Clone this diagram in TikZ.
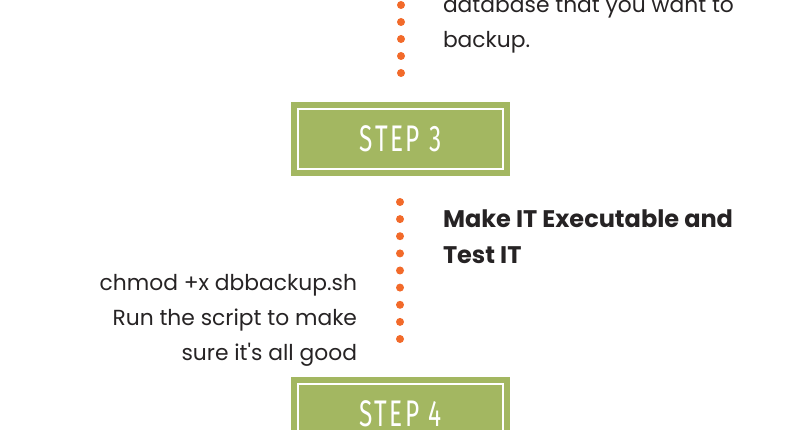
\documentclass[tikz,border=0pt]{standalone}
\usepackage{fontspec}
\setmainfont{Poppins}
\newfontfamily\stepfont[FakeStretch=0.66,LetterSpace=7]{Fira Sans}
\usetikzlibrary{positioning}
\definecolor{stepgreen}{HTML}{A3B761}
\definecolor{dotorange}{HTML}{F26A2A}
\definecolor{bodygray}{HTML}{262324}

\begin{document}
\begin{tikzpicture}[x=1pt,y=-1pt,
  every node/.style={inner sep=0pt,outer sep=0pt},
  stepbox/.style={fill=stepgreen,minimum width=219pt,minimum height=74pt,
    text=white,font=\stepfont\fontsize{37}{37}\selectfont,
    path picture={\draw[white,line width=2pt]
      ([shift={(7pt,-7pt)}]path picture bounding box.north west) rectangle
      ([shift={(-7pt,7pt)}]path picture bounding box.south east);}},
  body/.style={text=bodygray,font=\fontsize{21.8}{35}\selectfont},
  head/.style={text=bodygray,font=\bfseries\fontsize{24}{36}\selectfont}]
  \useasboundingbox (0,0) rectangle (800,430);
  % dots above step 3
  \foreach \y in {5,22,39,56,73}
    \fill[dotorange] (401,\y) circle (4);
  \node[body,anchor=base west,align=left] (prev) at (443,48)
    {database that you want to\\backup.};
  % step 3
  \node[stepbox] (s3) at (400.5,139) {STEP 3};
  \foreach \y in {202,219.1,236.2,253.4,270.5,287.6,304.8,321.9,339}
    \fill[dotorange] (400,\y) circle (4);
  \node[head,anchor=base west,align=left] (title) at (443,264)
    {Make IT Executable and\\Test IT};
  \node[body,anchor=base east,align=right] (desc) at (357,360)
    {chmod +x dbbackup.sh\\Run the script to make\\sure it\textquotesingle s all good};
  % step 4
  \node[stepbox] (s4) at (400.5,414) {STEP 4};
\end{tikzpicture}
\end{document}
